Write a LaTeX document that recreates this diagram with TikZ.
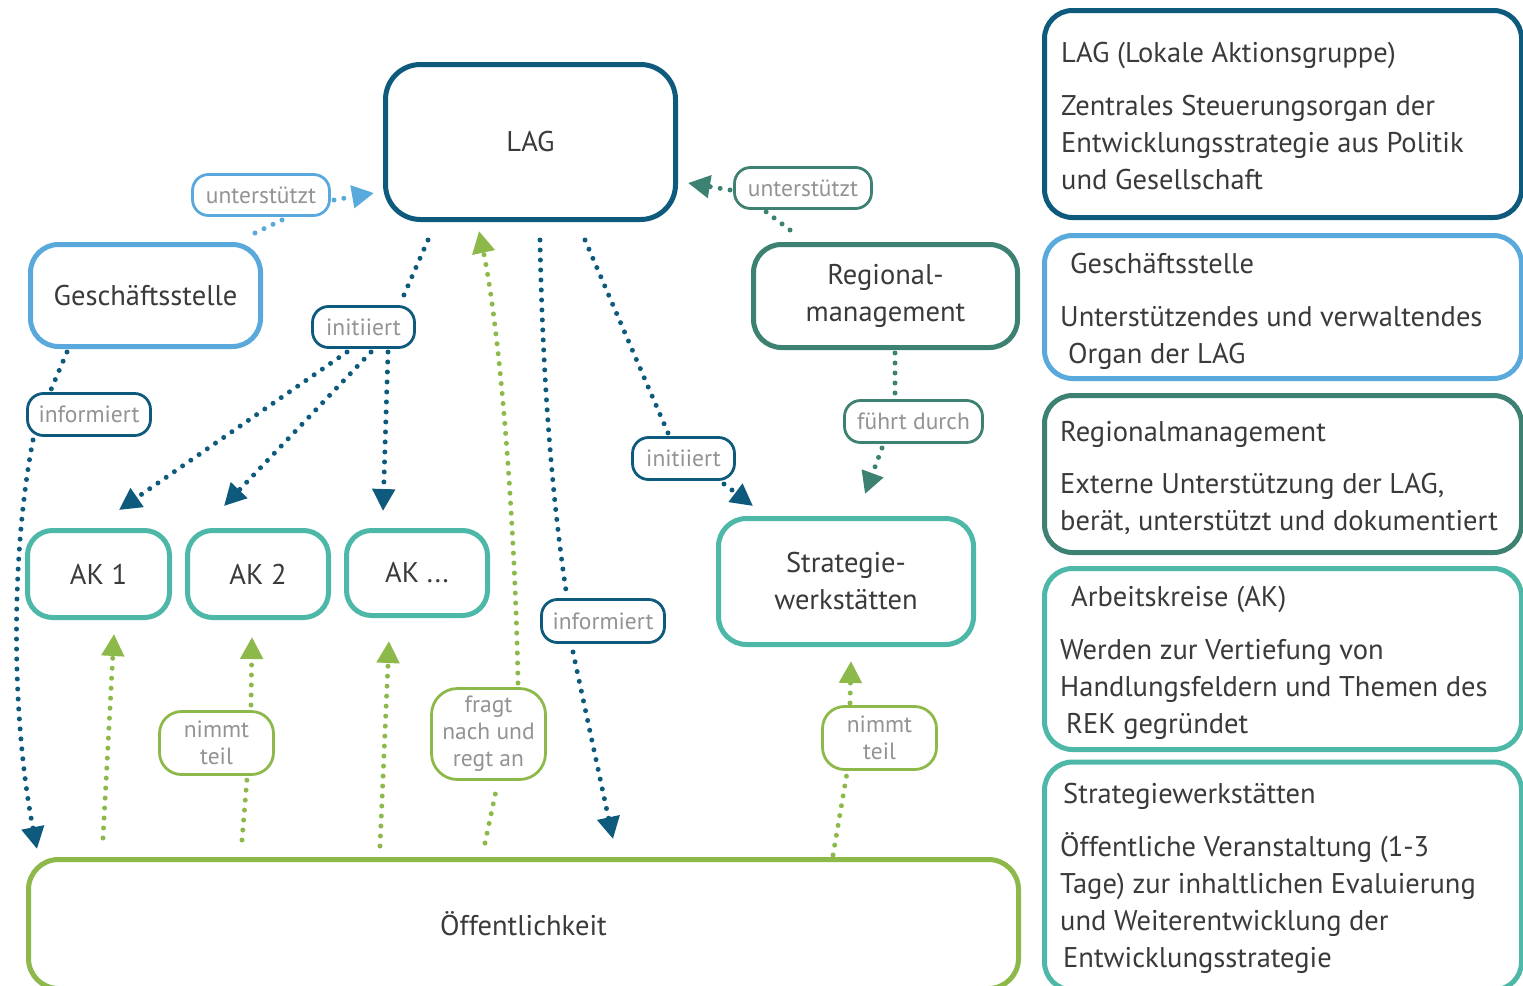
\documentclass[tikz,border=0pt]{standalone}
\usepackage{fontspec}
\setmainfont{PT Sans}
\usetikzlibrary{arrows.meta,calc}
\definecolor{dblue}{HTML}{0D5A7D}
\definecolor{lblue}{HTML}{5AA9DD}
\definecolor{dteal}{HTML}{3D8173}
\definecolor{tealc}{HTML}{4DB8A7}
\definecolor{greenc}{HTML}{8DB94B}
\definecolor{txt}{HTML}{3A3A3A}
\definecolor{lgray}{HTML}{939393}
\newcommand\bigfnt{\fontsize{28.5}{37}\selectfont}
\newcommand\smallfnt{\fontsize{23.5}{27}\selectfont}
\begin{document}
\begin{tikzpicture}[x=1pt,y=-1pt,
 box/.style={draw, rounded corners=28pt, line width=5pt, fill=white, text=txt, font=\bigfnt, align=center, inner sep=0pt},
 lbl/.style={draw, rounded corners=16pt, line width=2.8pt, fill=white, text=lgray, font=\smallfnt, align=center, inner sep=0pt},
 dots/.style={line width=5pt, dash pattern=on 0pt off 10pt, line cap=round},
 tip/.style={-{Triangle[length=22pt,width=22pt]}},
 ptxt/.style={anchor=base west, inner sep=0pt, text=txt, font=\bigfnt, align=left}]
\useasboundingbox (0,0) rectangle (1523,985);
\clip (0,0) rectangle (1523,985);

% ---------- right panel ----------
\node[box, draw=dblue, minimum width=477pt, minimum height=207pt] (r1) at (1283,114) {};
\node[box, draw=lblue, minimum width=477pt, minimum height=143pt] (r2) at (1283,307) {};
\node[box, draw=dteal, minimum width=477pt, minimum height=157pt] (r3) at (1283,474) {};
\node[box, draw=tealc, minimum width=477pt, minimum height=181pt] (r4) at (1283,659) {};
\node[box, draw=tealc, minimum width=477pt, minimum height=228pt] (r5) at (1283,876) {};

% (multi-line nodes: base anchor = baseline of last line)
\node[ptxt] (t1a) at (1061,62) {LAG (Lokale Aktionsgruppe)};
\node[ptxt] (t1b) at (1061,189) {Zentrales Steuerungsorgan der\\Entwicklungsstrategie aus Politik\\und Gesellschaft};
\node[ptxt] (t2a) at (1070,273) {Geschäftsstelle};
\node[ptxt] (t2b) at (1060,363) {Unterstützendes und verwaltendes\\\hspace*{8pt}Organ der LAG};
\node[ptxt] (t3a) at (1060,441) {Regionalmanagement};
\node[ptxt] (t3b) at (1060,530) {Externe Unterstützung der LAG,\\berät, unterstützt und dokumentiert};
\node[ptxt] (t4a) at (1071,606) {Arbeitskreise (AK)};
\node[ptxt] (t4b) at (1060,733) {Werden zur Vertiefung von\\Handlungsfeldern und Themen des\\\hspace*{6pt}REK gegründet};
\node[ptxt] (t5a) at (1063,803) {Strategiewerkstätten};
\node[ptxt] (t5b) at (1060,967) {Öffentliche Veranstaltung (1-3\\Tage) zur inhaltlichen Evaluierung\\und Weiterentwicklung der\\\hspace*{3pt}Entwicklungsstrategie};

% ---------- main nodes ----------
\node[box, draw=dblue, rounded corners=35pt, minimum width=290pt, minimum height=155pt] (lag) at (530.5,142) {LAG};
\node[box, draw=lblue, minimum width=230pt, minimum height=102pt] (gs) at (145.5,295.5) {Geschäftsstelle};
\node[box, draw=dteal, minimum width=264pt, minimum height=103pt] (rm) at (885.5,296) {Regional-\\management};
\node[box, draw=tealc, rounded corners=25pt, minimum width=142pt, minimum height=87pt] (ak1) at (98.5,574) {AK 1};
\node[box, draw=tealc, rounded corners=25pt, minimum width=141pt, minimum height=87pt] (ak2) at (258,574) {AK 2};
\node[box, draw=tealc, rounded corners=25pt, minimum width=141pt, minimum height=85pt] (ak3) at (417,573) {AK ...};
\node[box, draw=tealc, minimum width=255pt, minimum height=126pt] (sw) at (846,581.5) {Strategie-\\werkstätten};
\node[box, draw=greenc, rounded corners=30pt, minimum width=990pt, minimum height=129pt] (oe) at (523.5,924) {Öffentlichkeit};

% ---------- edge labels ----------
\node[lbl, draw=lblue, minimum width=137pt, minimum height=41pt] (ub) at (261,195) {unterstützt};
\node[lbl, draw=dteal, minimum width=137pt, minimum height=41pt] (ut) at (803,188) {unterstützt};
\node[lbl, draw=dblue, minimum width=102pt, minimum height=41pt] (i1) at (363.5,327) {initiiert};
\node[lbl, draw=dblue, minimum width=123pt, minimum height=42pt] (inf1) at (89,414.5) {informiert};
\node[lbl, draw=dblue, minimum width=102pt, minimum height=42pt] (i2) at (683.5,458.5) {initiiert};
\node[lbl, draw=dteal, minimum width=138pt, minimum height=42pt] (fd) at (913.5,421.5) {führt durch};
\node[lbl, draw=dblue, minimum width=123pt, minimum height=43pt] (inf2) at (603,621) {informiert};
\node[lbl, draw=greenc, rounded corners=22pt, minimum width=114pt, minimum height=63pt] (nt1) at (216.5,743) {nimmt\\teil};
\node[lbl, draw=greenc, rounded corners=26pt, minimum width=114pt, minimum height=91pt] (fr) at (488.5,734) {fragt\\nach und\\regt an};
\node[lbl, draw=greenc, rounded corners=22pt, minimum width=114pt, minimum height=63pt] (nt2) at (879.5,738) {nimmt\\teil};

% ---------- connectors ----------
% Geschäftsstelle -> LAG
\draw[dots, lblue] ($(gs.center)+(109.5,-62.5)$) -- ($(ub.center)+(23,24)$);
\draw[dots, lblue, tip] ($(ub.center)+(73,5)$) -- ($(lag.center)+(-156.5,51)$);
% Regionalmanagement -> LAG
\draw[dots, dteal] ($(rm.center)+(-95.5,-66)$) -- ($(ut.center)+(-38,23)$);
\draw[dots, dteal, tip] ($(ut.center)+(-73,2)$) -- ($(lag.center)+(157.5,41)$);
% LAG -> AKs
\draw[dots, dblue] ($(lag.center)+(-102.5,98)$) -- ($(i1.center)+(36.5,-23)$);
\draw[dots, dblue, tip] ($(i1.center)+(-16.5,25)$) -- ($(ak1.center)+(20.5,-64)$);
\draw[dots, dblue, tip] ($(i1.center)+(7.5,25)$) -- ($(ak2.center)+(-34,-68)$);
\draw[dots, dblue, tip] ($(i1.center)+(24.5,25)$) -- ($(ak3.center)+(-34,-62)$);
% Geschäftsstelle -> Öffentlichkeit
\draw[dots, dblue] ($(gs.center)+(-78.5,56.5)$) -- ($(inf1.center)+(-39,-22.5)$);
\draw[dots, dblue, tip] ($(inf1.center)+(-56,25.5)$) .. controls (10,560) and (12,720) .. ($(oe.center)+(-486.5,-75)$);
% LAG -> Öffentlichkeit
\draw[dots, dblue] ($(lag.center)+(9.5,98)$) .. controls (543,400) and (555,520) .. ($(inf2.center)+(-36,-24)$);
\draw[dots, dblue, tip] ($(inf2.center)+(-30,31)$) -- ($(oe.center)+(89.5,-85)$);
% LAG -> Strategiewerkstätten
\draw[dots, dblue] ($(lag.center)+(54.5,98)$) -- ($(i2.center)+(-15.5,-25.5)$);
\draw[dots, dblue, tip] ($(i2.center)+(40.5,25.5)$) -- ($(sw.center)+(-93,-75.5)$);
% Regionalmanagement -> Strategiewerkstätten
\draw[dots, dteal] ($(rm.center)+(9.5,57)$) -- ($(fd.center)+(-18.5,-24.5)$);
\draw[dots, dteal, tip] ($(fd.center)+(-31.5,26.5)$) -- ($(sw.center)+(19,-87.5)$);
% Öffentlichkeit -> LAG
\draw[dots, greenc] ($(oe.center)+(-38.5,-81)$) -- ($(fr.center)+(8.5,52)$);
\draw[dots, greenc, tip] ($(fr.center)+(29.5,-51)$) .. controls (515,520) and (500,330) .. ($(lag.center)+(-51.5,89)$);
% Öffentlichkeit -> AKs
\draw[dots, greenc, tip] ($(oe.center)+(-420.5,-86)$) -- ($(ak1.center)+(15.5,60)$);
\draw[dots, greenc] ($(oe.center)+(-281.5,-84)$) -- ($(nt1.center)+(30.5,36)$);
\draw[dots, greenc, tip] ($(nt1.center)+(34.5,-38)$) -- ($(ak2.center)+(-6,63)$);
\draw[dots, greenc, tip] ($(oe.center)+(-143.5,-78)$) -- ($(ak3.center)+(-28,68)$);
% Öffentlichkeit -> Strategiewerkstätten
\draw[dots, greenc] ($(oe.center)+(309.5,-69)$) -- ($(nt2.center)+(-32.5,35)$);
\draw[dots, greenc, tip] ($(nt2.center)+(-29.5,-35)$) -- ($(sw.center)+(5,79.5)$);
\end{tikzpicture}
\end{document}
